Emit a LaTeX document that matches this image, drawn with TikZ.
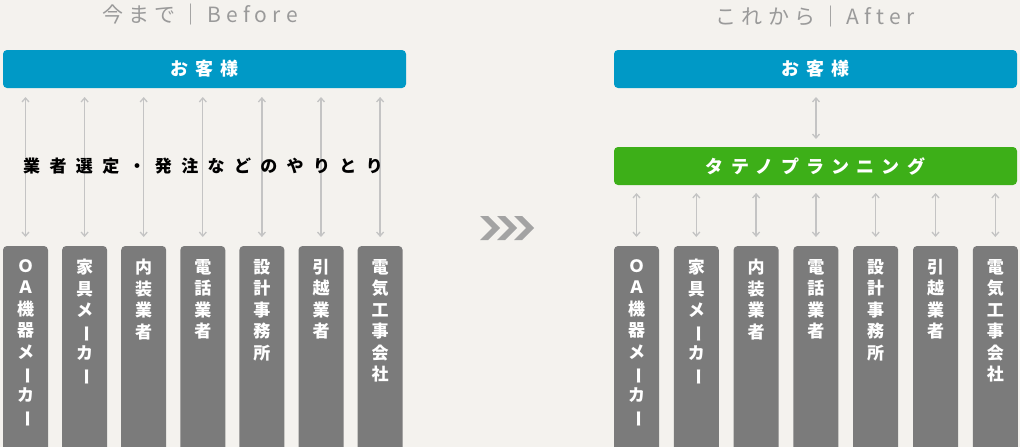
\documentclass[tikz,border=0pt]{standalone}
\usepackage{fontspec}
\usetikzlibrary{arrows.meta}
\setmainfont{Noto Sans CJK JP}
\newfontfamily\jp{Noto Sans CJK JP}
\newfontfamily\jpsp[LetterSpace=25]{Noto Sans CJK JP}
\newfontfamily\jpbar[LetterSpace=40]{Noto Sans CJK JP}
\newfontfamily\jpmid[LetterSpace=55]{Noto Sans CJK JP}
\newcommand\vbar{\rotatebox[origin=c]{-90}{ー}}
\definecolor{bg}{HTML}{F4F2EE}
\definecolor{bl}{HTML}{0099C6}
\definecolor{gr}{HTML}{3DAF18}
\definecolor{bx}{HTML}{7B7B7B}
\definecolor{ar}{HTML}{C4C4C4}
\definecolor{tt}{HTML}{9A9A9A}
\begin{document}
\begin{tikzpicture}[x=1pt,y=-1pt,
 bar/.style={rounded corners=4pt,minimum height=38pt,text=white,font=\jpbar\fontsize{18}{18}\selectfont\bfseries},
 box/.style={fill=bx,rounded corners=4pt},
 vt/.style={anchor=north,text=white,align=center,font=\jp\fontsize{17}{21.5}\selectfont\bfseries,inner sep=0pt},
 arr/.style={ar,line width=1.3pt,<->,>={Straight Barb[length=4pt,width=7pt]}},
 ttl/.style={text=tt,font=\jpsp\fontsize{21}{21}\selectfont}]
\useasboundingbox (0,0) rectangle (1020,447);
\clip (0,0) rectangle (1020,447);
\fill[bg] (0,0) rectangle (1020,447);
\node[ttl] (t1) at (200,15) {今まで｜Before};
\node[ttl] (t2) at (815,17) {これから｜After};
\fill[bl,rounded corners=4pt] (3,50) rectangle (406,88);
\node[bar] (c1) at (204.5,69) {お客様};
\fill[bl,rounded corners=4pt] (614,50) rectangle (1017,88);
\node[bar] (c2) at (815.5,69) {お客様};
\fill[gr,rounded corners=4pt] (614,147) rectangle (1017,185);
\node[bar] (g) at (815.5,166) {タテノプランニング};
\foreach \i/\t in {0/{Ｏ\\Ａ\\機\\器\\メ\\\vbar\\カ\\\vbar},1/{家\\具\\メ\\\vbar\\カ\\\vbar},2/{内\\装\\業\\者},3/{電\\話\\業\\者},4/{設\\計\\事\\務\\所},5/{引\\越\\業\\者},6/{電\\気\\工\\事\\会\\社}}{
 \pgfmathsetmacro\xl{3+59.1*\i}
 \pgfmathsetmacro\xr{614+59.8*\i}
 \fill[box] (\xl,246) rectangle ++(45,210);
 \fill[box] (\xr,246) rectangle ++(45,210);
 \node[vt] (l\i) at (\xl+22.5,259) {\t};
 \node[vt] (r\i) at (\xr+22.5,259) {\t};
 \coordinate (la\i) at (\xl+22.5,97);
 \coordinate (lb\i) at (\xl+22.5,237);
 \coordinate (ra\i) at (\xr+22.5,193);
 \coordinate (rb\i) at (\xr+22.5,237);
 \draw[arr] (la\i) -- (lb\i);
 \draw[arr] (ra\i) -- (rb\i);
}
\coordinate (m1) at (816,97); \coordinate (m2) at (816,139);
\draw[arr] (m1) -- (m2);
\node[font=\jpmid\fontsize{17}{17}\selectfont\bfseries,text=black] (mid) at (203,166) {業者選定・発注などのやりとり};
\foreach \dx in {0,17,34}{
 \fill[bx!70] (480+\dx,216) -- ++(8,0) -- ++(12,12) -- ++(-12,12) -- ++(-8,0) -- ++(12,-12) -- cycle;}
\end{tikzpicture}
\end{document}
